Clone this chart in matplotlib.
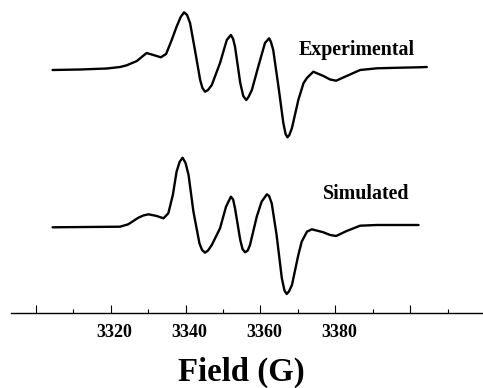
import numpy as np
import matplotlib
matplotlib.use('Agg')
import matplotlib.pyplot as plt
import matplotlib.transforms as mtransforms

# EPR spectra (field in G, derivative intensity in arb. units)
exp_field = [3304.5, 3311.8, 3319.0, 3322.5, 3324.3, 3327.0, 3328.3, 3329.6, 3331.4, 3333.4,
             3334.8, 3336.3, 3337.6, 3338.7, 3339.6, 3340.4, 3341.2, 3342.5, 3343.9, 3344.5,
             3345.2, 3346.0, 3347.0, 3349.2, 3351.0, 3352.1, 3352.7, 3353.2, 3354.6, 3355.4,
             3356.2, 3356.8, 3357.7, 3359.4, 3361.2, 3362.3, 3362.8, 3363.4, 3364.8, 3366.1,
             3366.7, 3367.2, 3367.7, 3368.4, 3370.1, 3371.5, 3372.4, 3374.1, 3376.8, 3378.6,
             3380.2, 3383.0, 3386.6, 3391.1, 3397.3, 3402.2, 3404.4]
exp_signal = [-1.0, -0.5, 0.5, 2.0, 3.7, 8.0, 12.0, 16.0, 14.0, 11.7,
              15.0, 29.0, 42.3, 52.0, 56.7, 54.0, 46.0, 19.0, -11.0, -19.0,
              -22.7, -21.0, -16.0, 6.0, 29.0, 34.0, 30.0, 22.3, -14.0, -27.0,
              -31.0, -28.0, -21.0, 2.3, 26.0, 30.7, 27.0, 19.0, -17.7, -54.0,
              -65.0, -68.3, -66.0, -59.0, -31.0, -14.0, -9.0, -2.7, -7.0, -10.5,
              -11.7, -7.0, -1.0, 0.7, 1.3, 1.7, 2.0]

sim_field = [3304.5, 3322.5, 3324.7, 3327.4, 3328.7, 3330.1, 3332.3, 3334.1, 3335.4, 3336.6,
             3337.6, 3338.4, 3339.2, 3340.0, 3340.8, 3342.1, 3343.7, 3344.4, 3345.2, 3346.0,
             3347.0, 3349.2, 3350.8, 3352.1, 3352.7, 3353.2, 3354.6, 3355.2, 3355.9, 3356.6,
             3357.2, 3359.0, 3360.3, 3361.7, 3362.3, 3363.0, 3364.3, 3365.7, 3366.4, 3367.0,
             3367.6, 3368.4, 3370.1, 3371.0, 3372.4, 3373.7, 3376.8, 3378.6, 3380.2, 3383.0,
             3386.6, 3391.1, 3402.2]
sim_signal = [-0.8, -0.2, 2.2, 8.8, 11.0, 12.2, 10.5, 8.2, 13.2, 31.5,
              54.8, 64.5, 68.8, 63.5, 51.5, 14.8, -16.8, -23.5, -26.2, -24.0,
              -18.5, -1.8, 19.8, 29.8, 27.0, 18.2, -13.5, -22.5, -25.8, -24.0,
              -18.5, 9.8, 24.8, 32.2, 30.5, 23.2, -8.5, -51.8, -64.0, -67.5,
              -65.0, -58.5, -28.5, -15.2, -5.2, -2.8, -5.8, -8.5, -9.5, -4.5,
              0.8, 1.5, 1.5]

major_ticks = [3300, 3320, 3340, 3360, 3380, 3400]
major_labels = ['', '3320', '3340', '3360', '3380', '']
minor_ticks = [3310, 3330, 3350, 3370, 3390, 3410]

plt.rcParams['font.family'] = ['Liberation Serif', 'DejaVu Serif']
plt.rcParams['font.weight'] = 'bold'

fig = plt.figure(figsize=(4.83, 3.88), dpi=100)
ax = fig.add_axes([11 / 483, 1 - 313.3 / 388, 1 - 11 / 483, 313.3 / 388])

exp_offset = 244.3
sim_offset = 86.8
ax.plot(exp_field, np.array(exp_signal) + exp_offset, color='black', lw=1.7,
        solid_joinstyle='round', solid_capstyle='round')
ax.plot(sim_field, np.array(sim_signal) + sim_offset, color='black', lw=1.7,
        solid_joinstyle='round', solid_capstyle='round')

ax.text(3370.1, 258.3, 'Experimental', fontsize=14.4, fontweight='bold', va='baseline', ha='left')
ax.text(3376.6, 114.0, 'Simulated', fontsize=14.4, fontweight='bold', va='baseline', ha='left')

ax.set_xlim(3293.4, 3419.4)
ax.set_ylim(0, 313.3)
for s in ['top', 'right', 'left']:
    ax.spines[s].set_visible(False)
ax.spines['bottom'].set_linewidth(1.0)
ax.set_yticks([])
ax.set_xticks(major_ticks)
ax.set_xticklabels(major_labels)
ax.set_xticks(minor_ticks, minor=True)
ax.tick_params(axis='x', which='major', direction='in', length=5.8, width=0.8, pad=8, labelsize=13)
ax.tick_params(axis='x', which='minor', direction='in', length=2.9, width=0.8)
shift = mtransforms.ScaledTranslation(4 / 100, 0, fig.dpi_scale_trans)
for lab in ax.get_xticklabels():
    lab.set_fontweight('bold')
    lab.set_transform(lab.get_transform() + shift)

fig.text(241.7 / 483, 1 - 381 / 388, 'Field (G)', fontsize=23.6, fontweight='bold',
         ha='center', va='baseline')

fig.savefig('out.png', dpi=100)
